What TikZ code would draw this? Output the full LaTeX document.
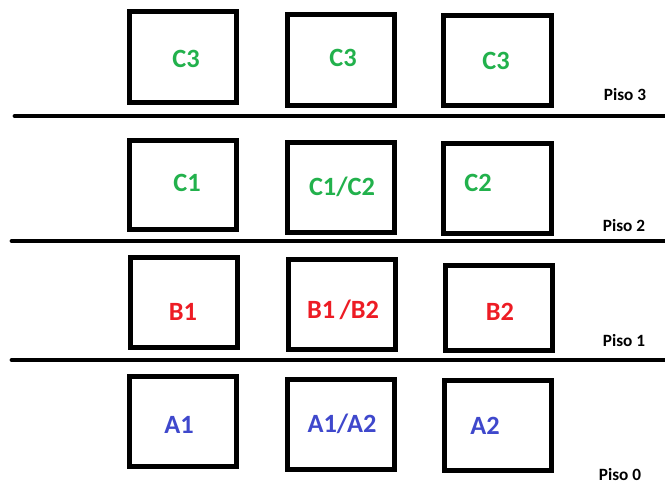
\documentclass[tikz,border=0pt]{standalone}
\usepackage{fontspec}
\setmainfont{Carlito}
\definecolor{ccolor}{HTML}{22B14C}
\definecolor{bcolor}{HTML}{ED1C24}
\definecolor{acolor}{HTML}{3F48CC}

\begin{document}
\begin{tikzpicture}[x=0.02cm, y=-0.02cm,
    room/.style={rectangle, draw=black, line width=2.8pt, minimum width=2.14cm, minimum height=1.8cm, inner sep=0pt},
    tag/.style={font=\fontsize{15}{18}\selectfont\bfseries, text height=9.7pt, text depth=0pt, inner sep=0pt},
    lvl/.style={font=\fontsize{9.8}{12}\selectfont\bfseries, text height=6.3pt, text depth=0pt, inner sep=0pt},
    floor/.style={line width=2.8pt, line cap=round},
  ]
    \useasboundingbox (0,0) rectangle (665,494);

    % piso 3
    \node[room, minimum height=1.82cm] (r3a) at (183,57) {};
    \node[room, minimum height=1.82cm] (r3b) at (341,60) {};
    \node[room, minimum width=2.16cm] (r3c) at (497.5,60.5) {};
    \node[tag, ccolor] (t3a) at (186,59) {C3};
    \node[tag, ccolor] (t3b) at (343,58) {C3};
    \node[tag, ccolor] (t3c) at (496,61) {C3};
    \node[lvl] (p3) at (625,95) {Piso 3};
    \draw[floor] (15,116) -- (665,116);

    % piso 2
    \node[room, minimum height=1.78cm] (r2a) at (183,185) {};
    \node[room] (r2b) at (341,187.5) {};
    \node[room, minimum width=2.16cm] (r2c) at (497.5,188.5) {};
    \node[tag, ccolor] (t2a) at (187,183) {C1};
    \node[tag, ccolor] (t2b) at (342,187) {C1/C2};
    \node[tag, ccolor] (t2c) at (478,183) {C2};
    \node[lvl] (p2) at (624,226) {Piso 2};
    \draw[floor] (12,241) -- (665,241);

    % piso 1
    \node[room] (r1a) at (184,302.5) {};
    \node[room] (r1b) at (342,304.5) {};
    \node[room, minimum height=1.7cm] (r1c) at (499,308) {};
    \node[tag, bcolor] (t1a) at (183,312) {B1};
    \node[tag, bcolor] (t1b) at (343,310) {B1\,/B2};
    \node[tag, bcolor] (t1c) at (500,312) {B2};
    \node[lvl] (p1) at (624,341) {Piso 1};
    \draw[floor] (12,360) -- (665,360);

    % piso 0
    \node[room] (r0a) at (183,421.5) {};
    \node[room] (r0b) at (341,424.5) {};
    \node[room] (r0c) at (498,425.5) {};
    \node[tag, acolor] (t0a) at (179,425) {A1};
    \node[tag, acolor] (t0b) at (342,424) {A1/A2};
    \node[tag, acolor] (t0c) at (485,426) {A2};
    \node[lvl] (p0) at (620,475) {Piso 0};
  \end{tikzpicture}
\end{document}
